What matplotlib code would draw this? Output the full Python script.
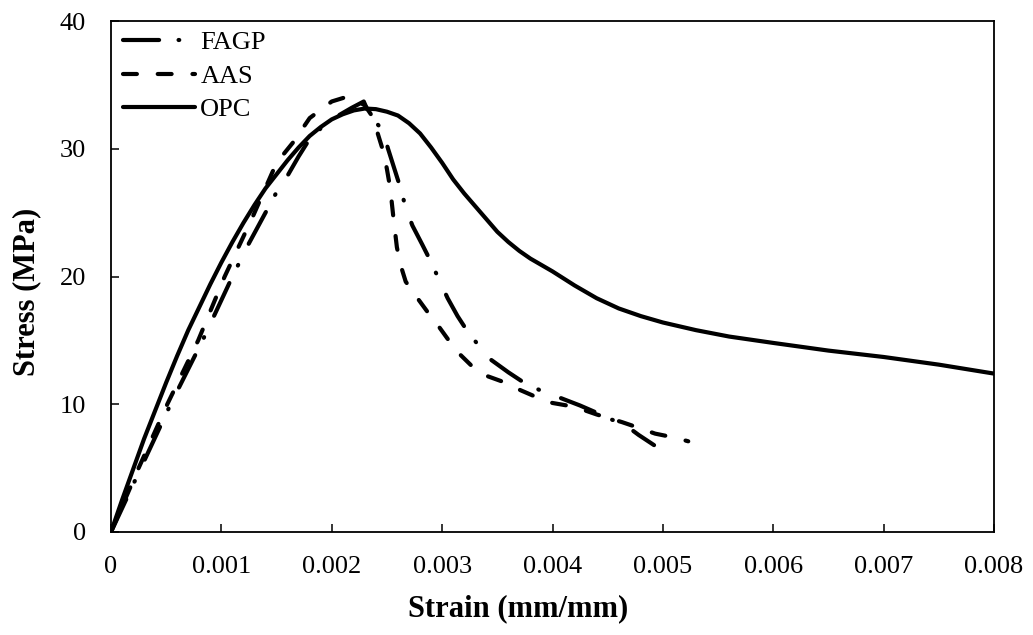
import matplotlib
matplotlib.use("Agg")
import matplotlib.pyplot as plt
from matplotlib.ticker import FuncFormatter

plt.rcParams['font.family'] = ['Liberation Serif', 'DejaVu Serif']
plt.rcParams['lines.scale_dashes'] = False

# ---- data ----
opc_x = [0, 0.0001, 0.0002, 0.0003, 0.0004, 0.0005, 0.0006, 0.0007, 0.0008, 0.0009,
         0.0010, 0.0011, 0.0012, 0.0013, 0.0014, 0.0015, 0.0016, 0.0017, 0.0018, 0.0019,
         0.0020, 0.0021, 0.0022, 0.0023, 0.0024, 0.0025, 0.0026, 0.0027, 0.0028, 0.0029,
         0.0030, 0.0031, 0.0032, 0.0033, 0.0034, 0.0035, 0.0036, 0.0037, 0.0038, 0.0039,
         0.0040, 0.0042, 0.0044, 0.0046, 0.0048, 0.0050, 0.0053, 0.0056, 0.0060, 0.0065,
         0.0070, 0.0075, 0.0080]
opc_y = [0, 2.5, 4.9, 7.3, 9.5, 11.7, 13.8, 15.8, 17.6, 19.4,
         21.1, 22.7, 24.2, 25.6, 26.9, 28.0, 29.1, 30.1, 31.0, 31.7,
         32.3, 32.7, 33.0, 33.15, 33.1, 32.9, 32.6, 32.0, 31.2, 30.1,
         28.9, 27.6, 26.5, 25.5, 24.5, 23.5, 22.7, 22.0, 21.4, 20.9,
         20.4, 19.3, 18.3, 17.5, 16.9, 16.4, 15.8, 15.3, 14.8, 14.2,
         13.7, 13.1, 12.4]

aas_x = [0, 0.00025, 0.00051, 0.00079, 0.00103, 0.00128, 0.0015, 0.00165, 0.0018, 0.0020,
         0.00215, 0.0023, 0.00237, 0.00242, 0.00247, 0.0025, 0.00253, 0.00256, 0.00259,
         0.00262, 0.00267, 0.00276, 0.00287, 0.00296, 0.00306, 0.00315, 0.00328, 0.00341,
         0.00357, 0.00371, 0.00387, 0.0040, 0.0042, 0.0044, 0.00463, 0.0048, 0.00493,
         0.0051, 0.00523]
aas_y = [0, 5, 10, 15, 20, 24.6, 28.9, 30.5, 32.4, 33.7,
         34.1, 33.4, 32.5, 31.1, 29.7, 28.4, 26.9, 24.5, 22.3,
         21.0, 19.6, 18.5, 17.2, 16.2, 15.0, 14.0, 12.9, 12.2,
         11.7, 11.1, 10.5, 10.1, 9.8, 9.2, 8.6, 8.1, 7.7,
         7.4, 7.1]

fagp_x = [0, 0.00027, 0.00054, 0.00083, 0.0011, 0.00125, 0.0014, 0.0015, 0.0016, 0.0017,
          0.00178, 0.0019, 0.0020, 0.0021, 0.00218, 0.00229, 0.00235, 0.00246, 0.00251,
          0.00262, 0.00267, 0.00273, 0.00282, 0.00289, 0.00297, 0.00305, 0.00314, 0.00323,
          0.00334, 0.00344, 0.0036, 0.00374, 0.00391, 0.00407, 0.00425, 0.00441, 0.0045,
          0.00464, 0.00478, 0.00492]
fagp_y = [0, 5, 10, 15, 20, 22.6, 25, 26.6, 27.9, 29.4,
          30.5, 31.6, 32.3, 32.8, 33.2, 33.7, 32.5, 31.5, 30.0,
          27.0, 25.4, 24.0, 22.5, 21.3, 19.8, 18.3, 16.9, 15.7,
          14.5, 13.5, 12.5, 11.7, 11.0, 10.5, 9.9, 9.3, 8.9,
          8.5, 7.6, 6.8]

x_ticks = [0, 0.001, 0.002, 0.003, 0.004, 0.005, 0.006, 0.007, 0.008]
y_ticks = [0, 10, 20, 30, 40]

# ---- figure ----
fig = plt.figure(figsize=(10.33, 6.35), dpi=100)
ax = fig.add_axes([111/1033, 1-532/635, (994-111)/1033, (532-21)/635])

lw = 3.0
l1, = ax.plot(fagp_x, fagp_y, color='black', lw=lw, label='FAGP',
              dash_capstyle='round', solid_capstyle='round', solid_joinstyle='round')
l1.set_dashes((26, 14, 0.5, 17))
l2, = ax.plot(aas_x, aas_y, color='black', lw=lw, label='AAS',
              dash_capstyle='round', solid_capstyle='round')
l2.set_dashes((10, 15))
l3, = ax.plot(opc_x, opc_y, color='black', lw=lw, label='OPC',
              solid_capstyle='round', solid_joinstyle='round')

ax.set_xlim(0, 0.008)
ax.set_ylim(0, 40)
ax.set_xticks(x_ticks)
ax.set_yticks(y_ticks)
ax.xaxis.set_major_formatter(FuncFormatter(lambda v, p: '0' if abs(v) < 1e-12 else f'{v:.3f}'))
ax.yaxis.set_major_formatter(FuncFormatter(lambda v, p: f'{v:.0f}'))
ax.tick_params(axis='both', direction='in', length=6, width=1.1, labelsize=19, colors='black')
ax.tick_params(axis='x', pad=17)
ax.tick_params(axis='y', pad=18)
for s in ax.spines.values():
    s.set_linewidth(1.3)
    s.set_color('black')

fig.text(518/1033, 1-609/635, 'Strain (mm/mm)', ha='center', va='center',
         fontsize=22, fontweight='bold')
fig.text(27/1033, 1-292/635, 'Stress (MPa)', ha='center', va='center',
         rotation=90, fontsize=22, fontweight='bold')

leg = ax.legend(loc='upper left', bbox_to_anchor=((123-111)/883, (532-31)/511),
                frameon=False, fontsize=19, handlelength=2.73, handletextpad=0.2,
                labelspacing=0.38, borderpad=0, borderaxespad=0)

fig.savefig('out.png', dpi=100)
